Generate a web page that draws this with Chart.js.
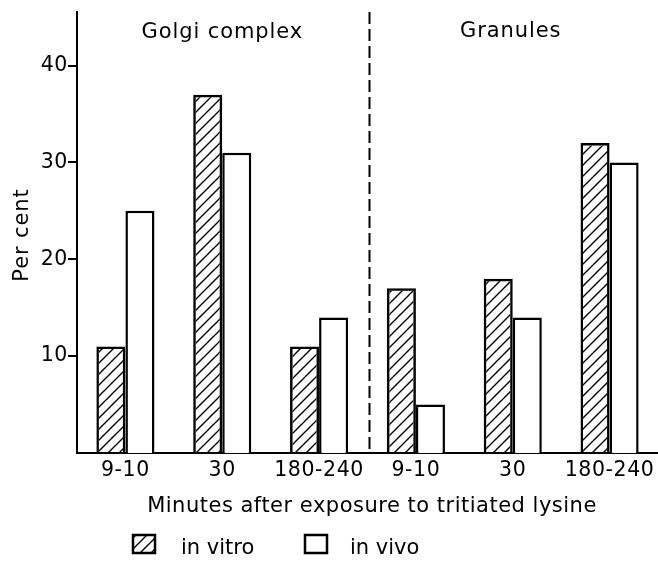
<!DOCTYPE html>
<html>
<head>
<meta charset="utf-8">
<script src="https://cdn.jsdelivr.net/npm/chart.js@4/dist/chart.umd.min.js"></script>
<style>
  html, body { margin: 0; padding: 0; background: #fff; }
  canvas { display: block; }
</style>
</head>
<body>
<canvas id="chart" width="658" height="564"></canvas>
<script>
// Data
const categories = ['9-10', '30', '180-240', '9-10', '30', '180-240'];
const inVitro = [11, 37, 11, 17, 18, 32];
const inVivo = [25, 31, 14, 5, 14, 30];
const yTicks = [10, 20, 30, 40];
const sectionTitles = ['Golgi complex', 'Granules'];
const seriesNames = ['in vitro', 'in vivo'];

const FONT = 'DejaVu Sans';

// diagonal hatch for the in vitro bars
function makeHatch() {
    const s = 11;
    const c = document.createElement('canvas');
    c.width = s; c.height = s;
    const p = c.getContext('2d');
    p.strokeStyle = '#000';
    p.lineWidth = 1.4;
    p.beginPath();
    p.moveTo(0, s); p.lineTo(s, 0);
    p.moveTo(-s / 2, s / 2); p.lineTo(s / 2, -s / 2);
    p.moveTo(s / 2, s * 1.5); p.lineTo(s * 1.5, s / 2);
    p.stroke();
    return p.createPattern(c, 'repeat');
}
const hatch = makeHatch();

// a little extra tracking for the tick labels
const spacing = {
    id: 'spacing',
    beforeDraw(chart) { chart.ctx.letterSpacing = '0.6px'; },
    afterDatasetsDraw(chart) { chart.ctx.letterSpacing = '0px'; }
};

// titles, separator and legend drawn on top
const extras = {
    id: 'extras',
    afterDraw(chart) {
        const ctx = chart.ctx;
        const x = chart.scales.x;
        const area = chart.chartArea;
        ctx.save();
        ctx.fillStyle = '#000';
        ctx.strokeStyle = '#000';

        // dashed divider between the two groups
        const midX = (x.getPixelForTick(2) + x.getPixelForTick(3)) / 2 + 2;
        ctx.lineWidth = 2;
        ctx.setLineDash([12, 5]);
        ctx.beginPath();
        ctx.moveTo(midX, 12);
        ctx.lineTo(midX, area.bottom);
        ctx.stroke();
        ctx.setLineDash([]);

        // group titles
        ctx.font = '21px ' + FONT;
        ctx.letterSpacing = '0.9px';
        ctx.textAlign = 'center';
        ctx.textBaseline = 'alphabetic';
        ctx.fillText(sectionTitles[0], x.getPixelForTick(1), 38);
        ctx.fillText(sectionTitles[1], x.getPixelForTick(4) - 2, 37);

        // x axis title
        ctx.font = '21px ' + FONT;
        ctx.letterSpacing = '0.5px';
        ctx.fillText('Minutes after exposure to tritiated lysine', 372, 512);

        // y axis title
        ctx.save();
        ctx.translate(28, 235);
        ctx.rotate(-Math.PI / 2);
        ctx.font = '21px ' + FONT;
        ctx.letterSpacing = '0.9px';
        ctx.fillText('Per cent', 0, 0);
        ctx.restore();

        // legend
        const items = [
            { box: 133, text: 181, fill: hatch },
            { box: 305, text: 350, fill: '#fff' }
        ];
        ctx.font = '21px ' + FONT;
        ctx.letterSpacing = '0px';
        ctx.textAlign = 'left';
        items.forEach((it, i) => {
            ctx.fillStyle = it.fill;
            ctx.fillRect(it.box, 535, 22, 18);
            ctx.lineWidth = 2.5;
            ctx.strokeRect(it.box, 535, 22, 18);
            ctx.fillStyle = '#000';
            ctx.fillText(seriesNames[i], it.text, 554);
        });
        ctx.restore();
    }
};

new Chart(document.getElementById('chart'), {
    type: 'bar',
    data: {
        labels: categories,
        datasets: [{
            label: seriesNames[0],
            data: inVitro,
            backgroundColor: hatch,
            borderColor: '#000',
            borderWidth: 2.5,
            categoryPercentage: 0.6,
            barPercentage: 1.0
        }, {
            label: seriesNames[1],
            data: inVivo,
            backgroundColor: '#fff',
            borderColor: '#000',
            borderWidth: 2.5,
            categoryPercentage: 0.6,
            barPercentage: 1.0
        }]
    },
    options: {
        responsive: false,
        animation: false,
        devicePixelRatio: 1,
        layout: { padding: { left: 0, right: 0, top: 7, bottom: 0 } },
        plugins: {
            legend: { display: false },
            tooltip: { enabled: false }
        },
        scales: {
            x: {
                grid: { display: false },
                border: { display: true, color: '#000', width: 2 },
                ticks: {
                    color: '#000',
                    padding: -3,
                    font: { family: FONT, size: 20.5 },
                    maxRotation: 0,
                    autoSkip: false
                },
                afterFit(scale) { scale.height = 111; }
            },
            y: {
                min: 0,
                max: 45.5,
                grid: {
                    display: true,
                    drawOnChartArea: false,
                    drawTicks: true,
                    tickLength: 9,
                    color: '#000',
                    lineWidth: 2
                },
                border: { display: true, color: '#000', width: 2 },
                ticks: {
                    color: '#000',
                    padding: 0,
                    font: { family: FONT, size: 20.5 }
                },
                afterBuildTicks(scale) {
                    scale.ticks = yTicks.map(v => ({ value: v }));
                },
                afterFit(scale) { scale.width = 77; }
            }
        }
    },
    plugins: [spacing, extras]
});
</script>
</body>
</html>
